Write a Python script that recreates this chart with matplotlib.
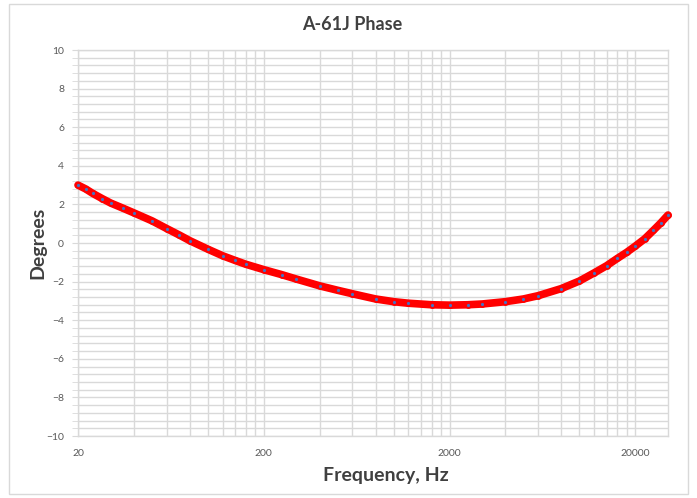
import numpy as np
import matplotlib
matplotlib.use('Agg')
import matplotlib.pyplot as plt
from matplotlib.patches import Rectangle
from matplotlib.ticker import FixedLocator, NullFormatter

# Phase readings (Hz, degrees)
freq = [20, 22, 24, 27, 30, 35, 40, 50, 60, 70, 80, 100, 120, 140, 160, 200,
        250, 300, 400, 500, 600, 800, 1000, 1200, 1600, 2000, 2500, 3000,
        4000, 5000, 6000, 8000, 10000, 12000, 14000, 16000, 18000, 20000,
        22500, 25000, 27500, 30000]
phase = [3.0, 2.8, 2.57, 2.3, 2.07, 1.8, 1.56, 1.15, 0.75, 0.42, 0.12, -0.32,
         -0.66, -0.9, -1.1, -1.38, -1.64, -1.87, -2.22, -2.45, -2.63, -2.9,
         -3.04, -3.12, -3.2, -3.22, -3.2, -3.16, -3.04, -2.9, -2.73, -2.36,
         -1.97, -1.55, -1.18, -0.8, -0.48, -0.16, 0.22, 0.65, 1.05, 1.45]

x_major = [20, 200, 2000, 20000]
x_labels = ['20', '200', '2000', '20000']
y_major = list(range(-10, 11, 2))

plt.rcParams['font.family'] = ['Lato', 'DejaVu Sans']

fig = plt.figure(figsize=(6.97, 4.98), dpi=100)
ax = fig.add_axes([78 / 697, 1 - 436 / 498, 590 / 697, 386 / 498])

grid_c = '#d9d9d9'
text_c = '#595959'

ax.set_xscale('log')
ax.set_xlim(20, 30000)
ax.set_ylim(-10, 10)

ax.xaxis.set_major_locator(FixedLocator(x_major))
ax.set_xticklabels(x_labels)
x_minor = [d * k for d in [20, 200, 2000] for k in range(2, 10)]
ax.xaxis.set_minor_locator(FixedLocator(x_minor))
ax.xaxis.set_minor_formatter(NullFormatter())

ax.set_yticks(y_major)
ax.set_yticks(np.arange(-10, 10.01, 0.4), minor=True)

ax.grid(True, which='both', color=grid_c, linewidth=1)
ax.set_axisbelow(True)
for s in ax.spines.values():
    s.set_color(grid_c)
    s.set_linewidth(1)

ax.tick_params(axis='both', which='both', colors=grid_c, labelcolor=text_c,
               labelsize=7.5, direction='out')
ax.tick_params(axis='y', which='major', length=4, pad=6)
ax.tick_params(axis='y', which='minor', length=4)
ax.tick_params(axis='x', which='both', length=0, pad=9)

ax.plot(freq, phase, color='#ff0000', linewidth=5.5, solid_capstyle='round',
        marker='o', markersize=3.6, markerfacecolor='#4472c4',
        markeredgecolor='#ff0000', markeredgewidth=1.3, zorder=3,
        clip_on=False)

fig.text(352 / 697, 1 - 25 / 498, 'A-61J Phase', ha='center', va='center',
         fontsize=13, fontweight='bold', color='#404040')
fig.text(386 / 697, 1 - 475 / 498, 'Frequency, Hz', ha='center', va='center',
         fontsize=14, fontweight='bold', color='#404040')
fig.text(38 / 697, 1 - 243 / 498, 'Degrees', ha='center', va='center',
         rotation=90, fontsize=14, fontweight='bold', color='#404040')

fig.patches.append(Rectangle((9 / 697, 4 / 498), 679 / 697, 490 / 498,
                             transform=fig.transFigure, fill=False,
                             edgecolor=grid_c, linewidth=1))

fig.savefig('out.png', dpi=100)
